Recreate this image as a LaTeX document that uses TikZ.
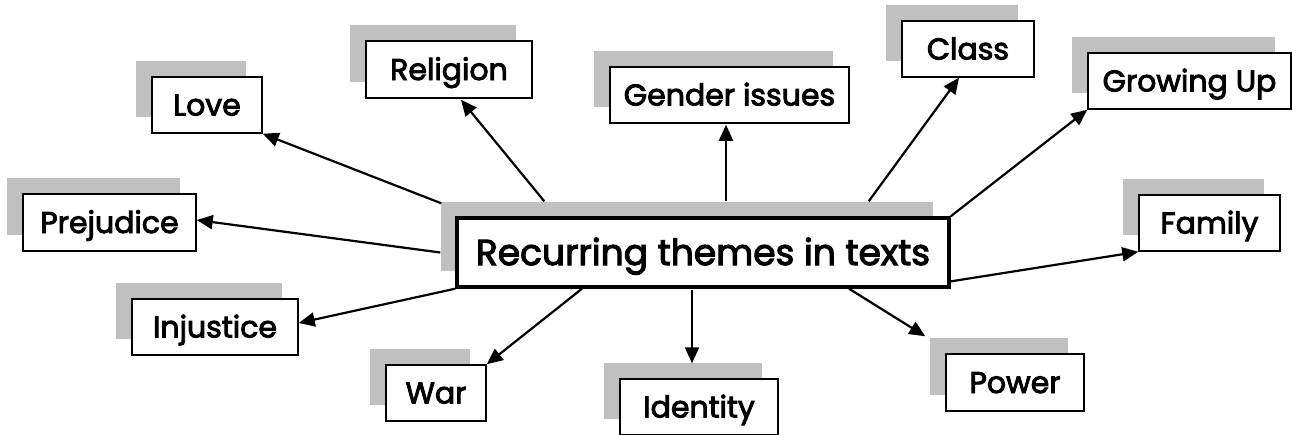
\documentclass[tikz,border=0pt]{standalone}
\usepackage{fontspec}
\setmainfont{Poppins}[FakeBold=3]
\usetikzlibrary{arrows.meta,shadows}
\definecolor{shadowgray}{RGB}{192,192,192}
\tikzset{
  theme/.style={draw=black, line width=1.5pt, fill=white, inner sep=0pt,
    minimum height=56, text height=21pt, text depth=0pt,
    font=\fontsize{30}{36}\selectfont,
    general shadow={fill=shadowgray, shadow xshift=-16pt, shadow yshift=16pt}},
  hubbox/.style={theme, line width=3.4pt, minimum height=69, text height=25pt,
    font=\fontsize{36}{42}\selectfont},
  link/.style={line width=2.2pt, -{Triangle[length=16pt,width=14pt]}}
}
\begin{document}
\begin{tikzpicture}[x=1pt, y=-1pt]
\useasboundingbox (0,0) rectangle (1292,434);

% central topic
\node[hubbox, minimum width=492] (hub) at (703,252.5) {Recurring themes in texts};

% surrounding themes
\node[theme, minimum width=110] (love) at (207,105) {Love};
\node[theme, minimum width=166, minimum height=57] (religion) at (449,69.5) {Religion};
\node[theme, minimum width=239] (gender) at (729.5,95) {Gender issues};
\node[theme, minimum width=132] (class) at (968,49) {Class};
\node[theme, minimum width=203] (growing) at (1189.5,81) {Growing Up};
\node[theme, minimum width=141] (family) at (1209.5,223) {Family};
\node[theme, minimum width=138, minimum height=57] (power) at (1015,382.5) {Power};
\node[theme, minimum width=158] (identity) at (699,407) {Identity};
\node[theme, minimum width=100] (war) at (436,393) {War};
\node[theme, minimum width=166] (injustice) at (215,327) {Injustice};
\node[theme, minimum width=173, minimum height=57] (prejudice) at (109.5,222.5) {Prejudice};

% connectors from the central topic
\draw[link] ([shift={(-14,-13)}]hub.north west) -- (love.south east);
\draw[link] ([shift={(89,-15)}]hub.north west) -- ([shift={(12,1)}]religion.south);
\draw[link] ([shift={(23,-15)}]hub.north) -- ([shift={(-3.5,1)}]gender.south);
\draw[link] ([shift={(-82,-15)}]hub.north east) -- ([shift={(-9,0)}]class.south);
\draw[link] (hub.north east) -- (growing.south west);
\draw[link] ([shift={(-2,-7)}]hub.south east) -- (family.south west);
\draw[link] ([shift={(146,0)}]hub.south) -- ([shift={(-20,-17)}]power.north west);
\draw[link] ([shift={(-11,1)}]hub.south) -- ([shift={(-7,-15)}]identity.north);
\draw[link] ([shift={(-121,0)}]hub.south) -- (war.north east);
\draw[link] (hub.south west) -- ([shift={(0,-4)}]injustice.east);
\draw[link] ([shift={(-15,0)}]hub.west) -- ([shift={(0,-2.5)}]prejudice.east);
\end{tikzpicture}
\end{document}
